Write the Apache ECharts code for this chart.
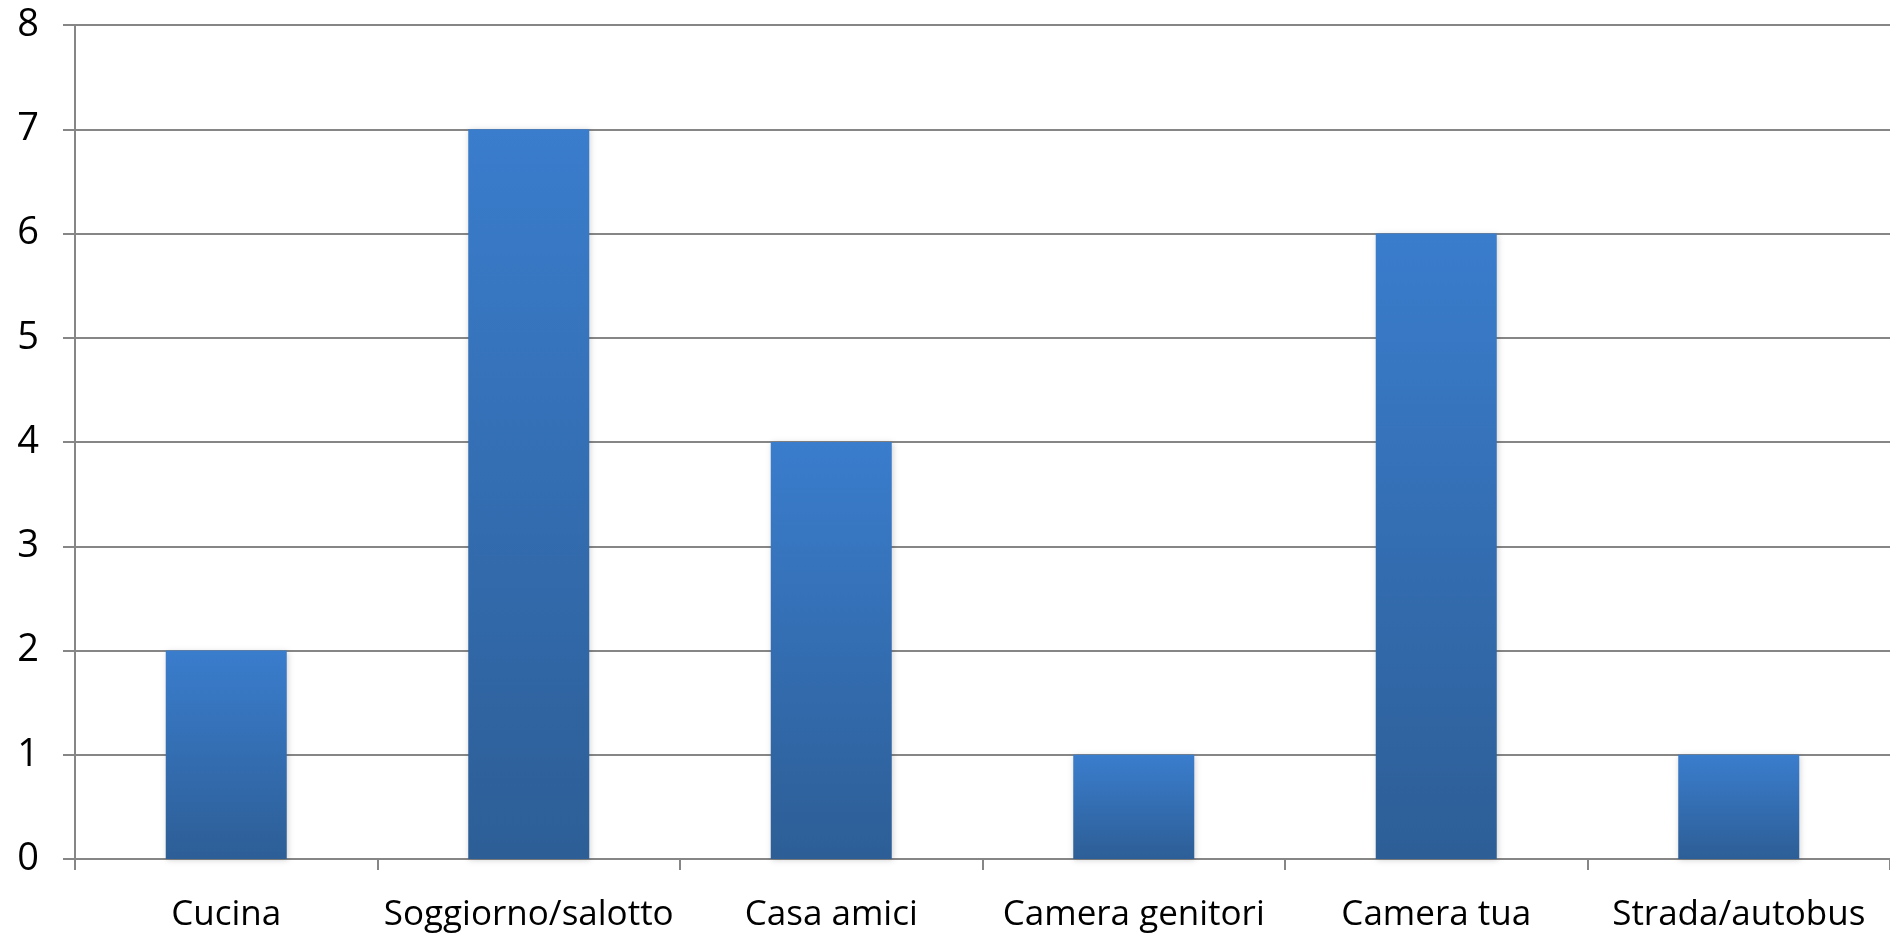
<!DOCTYPE html>
<html>
<head>
<meta charset="utf-8">
<script src="https://cdn.jsdelivr.net/npm/echarts@6/dist/echarts.min.js"></script>
<style>
html,body{margin:0;padding:0;background:#fff;}
#chart{width:1890px;height:934px;}
</style>
</head>
<body>
<div id="chart"></div>
<script>
const categories = ["Cucina", "Soggiorno/salotto", "Casa amici", "Camera genitori", "Camera tua", "Strada/autobus"];
const values = [2, 7, 4, 1, 6, 1];
const yTicks = [0, 1, 2, 3, 4, 5, 6, 7, 8];

const chart = echarts.init(document.getElementById('chart'), null, {renderer: 'canvas'});
const gray = '#868686';
const font = '"Open Sans", "Noto Sans", sans-serif';
chart.setOption({
  animation: false,
  backgroundColor: '#ffffff',
  grid: {left: 75, right: 0, top: 25, bottom: 75, containLabel: false},
  xAxis: {
    type: 'category',
    data: categories,
    boundaryGap: true,
    axisLine: {show: true, lineStyle: {color: gray, width: 2}},
    axisTick: {show: true, length: 11, alignWithLabel: false, lineStyle: {color: gray, width: 2}},
    axisLabel: {margin: 39, color: '#000', fontSize: 35, fontFamily: font, interval: 0},
    splitLine: {show: false}
  },
  yAxis: {
    type: 'value',
    min: yTicks[0],
    max: yTicks[yTicks.length - 1],
    interval: 1,
    axisLine: {show: true, lineStyle: {color: gray, width: 2}},
    axisTick: {show: true, length: 12, lineStyle: {color: gray, width: 2}},
    axisLabel: {margin: 36, color: '#000', fontSize: 38, fontFamily: font},
    splitLine: {show: true, lineStyle: {color: gray, width: 2}}
  },
  series: [{
    type: 'bar',
    data: values,
    barWidth: 121,
    itemStyle: {
      color: new echarts.graphic.LinearGradient(0, 0, 0, 1, [
        {offset: 0, color: '#3A7DCD'},
        {offset: 1, color: '#2D5E96'}
      ]),
      shadowBlur: 6,
      shadowColor: 'rgba(0,0,0,0.18)',
      shadowOffsetX: 1,
      shadowOffsetY: 1
    }
  }]
});
</script>
</body>
</html>
